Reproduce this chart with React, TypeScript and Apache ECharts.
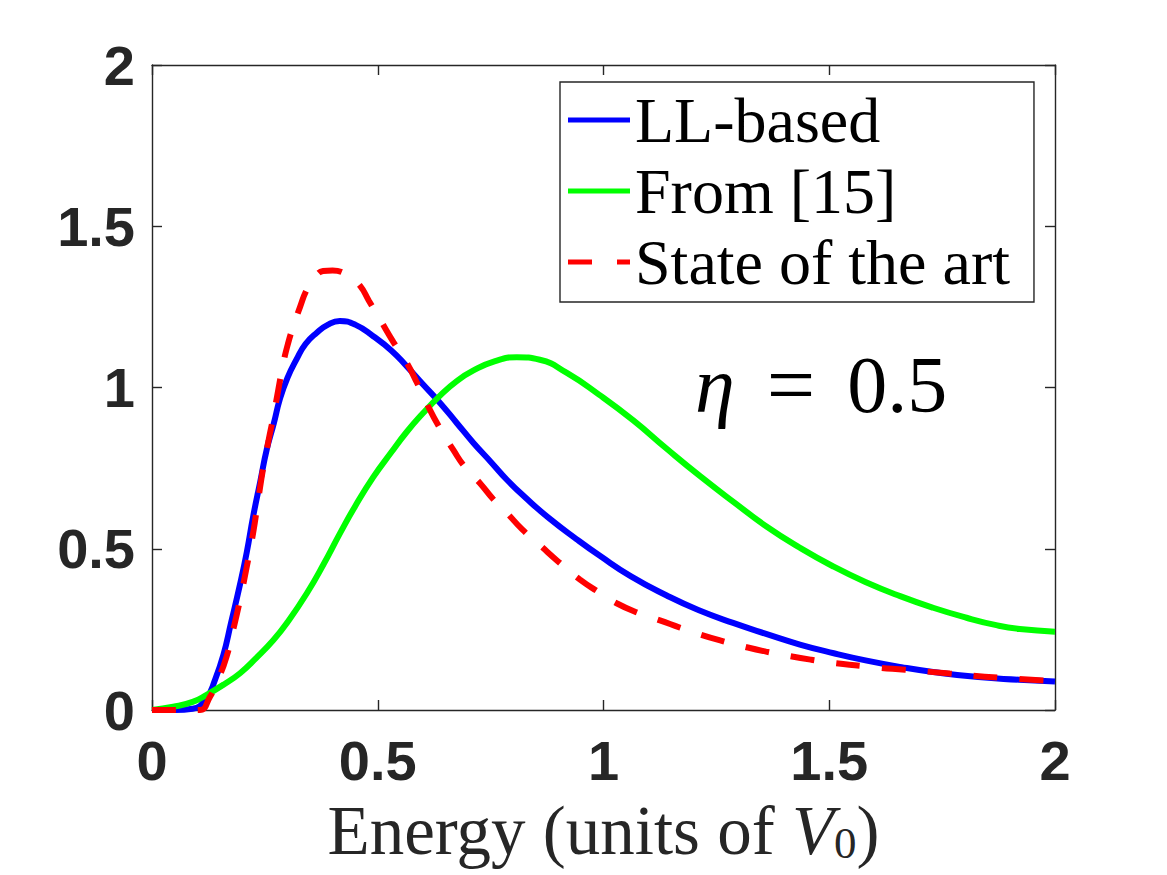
import React, { useEffect, useRef } from "react";
import * as echarts from "echarts";

const xTicks = [0, 0.5, 1, 1.5, 2];
const yTicks = [0, 0.5, 1, 1.5, 2];

const seriesNames = ["LL-based", "From [15]", "State of the art"];

const llX = [0, 0.05, 0.09, 0.12, 0.14, 0.158, 0.175, 0.195, 0.21, 0.224, 0.24, 0.254, 0.27, 0.283, 0.3, 0.32, 0.34, 0.365, 0.39, 0.416, 0.45, 0.49, 0.53, 0.564, 0.6, 0.638, 0.675, 0.712, 0.75, 0.786, 0.83, 0.88, 0.94, 0.992, 1.06, 1.14, 1.21, 1.287, 1.36, 1.435, 1.51, 1.583, 1.66, 1.73, 1.83, 1.92, 2.0];
const llY = [0, 0, 0.004, 0.035, 0.095, 0.17, 0.27, 0.39, 0.49, 0.6, 0.71, 0.807, 0.89, 0.963, 1.03, 1.087, 1.135, 1.17, 1.195, 1.206, 1.195, 1.159, 1.115, 1.066, 1.01, 0.952, 0.89, 0.828, 0.77, 0.714, 0.655, 0.594, 0.53, 0.478, 0.415, 0.355, 0.31, 0.27, 0.236, 0.203, 0.176, 0.153, 0.133, 0.118, 0.102, 0.094, 0.088];

const fromX = [0, 0.047, 0.09, 0.121, 0.16, 0.195, 0.23, 0.269, 0.3, 0.343, 0.38, 0.416, 0.45, 0.49, 0.53, 0.564, 0.6, 0.638, 0.675, 0.712, 0.76, 0.808, 0.859, 0.918, 0.99, 1.066, 1.14, 1.214, 1.29, 1.361, 1.435, 1.509, 1.58, 1.657, 1.73, 1.804, 1.87, 1.922, 2.0];
const fromY = [0, 0.01, 0.025, 0.047, 0.08, 0.114, 0.16, 0.217, 0.272, 0.362, 0.452, 0.547, 0.632, 0.722, 0.799, 0.862, 0.92, 0.975, 1.02, 1.053, 1.082, 1.094, 1.086, 1.046, 0.978, 0.898, 0.81, 0.725, 0.643, 0.569, 0.503, 0.445, 0.397, 0.353, 0.317, 0.286, 0.263, 0.251, 0.243];

const artX = [0, 0.06, 0.106, 0.128, 0.145, 0.165, 0.18, 0.195, 0.21, 0.224, 0.235, 0.247, 0.258, 0.269, 0.28, 0.291, 0.302, 0.313, 0.328, 0.343, 0.36, 0.379, 0.4, 0.424, 0.44, 0.461, 0.48, 0.505, 0.535, 0.564, 0.585, 0.608, 0.635, 0.667, 0.695, 0.726, 0.755, 0.786, 0.82, 0.86, 0.9, 0.948, 0.99, 1.029, 1.075, 1.125, 1.17, 1.214, 1.26, 1.31, 1.36, 1.413, 1.46, 1.509, 1.605, 1.668, 1.767, 1.878, 2.0];
const artY = [0, 0, 0, 0.04, 0.09, 0.165, 0.25, 0.342, 0.445, 0.549, 0.65, 0.756, 0.835, 0.911, 0.995, 1.077, 1.14, 1.19, 1.25, 1.304, 1.34, 1.361, 1.363, 1.356, 1.34, 1.315, 1.27, 1.211, 1.14, 1.077, 1.02, 0.952, 0.88, 0.807, 0.75, 0.704, 0.655, 0.611, 0.56, 0.51, 0.46, 0.404, 0.365, 0.331, 0.302, 0.278, 0.255, 0.234, 0.215, 0.197, 0.181, 0.167, 0.156, 0.146, 0.132, 0.125, 0.113, 0.1, 0.09];

const etaLabel = "{e|η}{q|=}0.5";
const xName = "Energy (units of {i|V}{s|0})";

const zip = (xs: number[], ys: number[]) => xs.map((x, i) => [x, ys[i]]);

const AXIS = "#262626";
const SERIF = "'Liberation Serif', 'Times New Roman', serif";
const SANS = "'Liberation Sans', Arial, Helvetica, sans-serif";
const SOLID_ICON = "path://M0,0H62V5H0Z";
const DASH_ICON = "path://M0,0H24V5H0Z M49,0H62V5H49Z";

export default function App() {
  const ref = useRef<HTMLDivElement>(null);
  useEffect(() => {
    document.body.style.margin = "0";
    if (!ref.current) return;
    const chart = echarts.init(ref.current, null, { renderer: "svg" });
    const commonAxis = {
      type: "value" as const,
      min: xTicks[0],
      max: xTicks[xTicks.length - 1],
      interval: 0.5,
      splitLine: { show: false },
      axisLine: { show: true, onZero: false, lineStyle: { color: AXIS, width: 1.4 } },
      axisTick: { show: true, inside: true, length: 10, lineStyle: { color: AXIS, width: 1.4 } },
    };
    chart.setOption({
      animation: false,
      backgroundColor: "#ffffff",
      grid: { left: 152, right: 112, top: 65, bottom: 165, containLabel: false },
      xAxis: [
        {
          ...commonAxis,
          position: "bottom",
          axisLabel: { show: true, fontSize: 56, fontWeight: "bold", fontFamily: SANS, color: AXIS, margin: 22 },
          name: xName,
          nameLocation: "middle",
          nameGap: 86,
          nameTextStyle: {
            fontSize: 69,
            fontFamily: SERIF,
            color: AXIS,
            rich: {
              i: { fontSize: 69, fontFamily: SERIF, fontStyle: "italic", color: AXIS },
              s: { fontSize: 45, fontFamily: SERIF, color: AXIS, padding: [24, 0, 0, 0] },
            },
          },
        },
        { ...commonAxis, position: "top", axisLabel: { show: false } },
      ],
      yAxis: [
        {
          ...commonAxis,
          min: yTicks[0],
          max: yTicks[yTicks.length - 1],
          position: "left",
          axisLabel: { show: true, fontSize: 56, fontWeight: "bold", fontFamily: SANS, color: AXIS, margin: 17 },
        },
        {
          ...commonAxis,
          min: yTicks[0],
          max: yTicks[yTicks.length - 1],
          position: "right",
          axisLabel: { show: false },
        },
      ],
      legend: {
        orient: "vertical",
        left: 560,
        top: 82,
        padding: [6, 24, 8, 8],
        itemGap: 7,
        itemWidth: 62,
        itemHeight: 5,
        backgroundColor: "#ffffff",
        borderColor: AXIS,
        borderWidth: 1.4,
        borderRadius: 0,
        textStyle: { fontSize: 64, fontFamily: SERIF, color: "#000000" },
        data: [
          { name: seriesNames[0], icon: SOLID_ICON },
          { name: seriesNames[1], icon: SOLID_ICON },
          { name: seriesNames[2], icon: DASH_ICON },
        ],
      },
      graphic: [
        {
          type: "text",
          left: 695,
          top: 342,
          style: {
            text: etaLabel,
            fontSize: 80,
            fontFamily: SERIF,
            fill: "#000000",
            rich: {
              e: { fontSize: 80, fontFamily: SERIF, fontStyle: "italic", fill: "#000000" },
              q: { fontSize: 86, fontFamily: SERIF, fill: "#000000", padding: [0, 32, 0, 32] },
            },
          } as any,
        },
      ],
      series: [
        {
          name: seriesNames[0],
          type: "line",
          data: zip(llX, llY),
          symbol: "none",
          smooth: 0.5,
          lineStyle: { color: "#0000ff", width: 6 },
          itemStyle: { color: "#0000ff" },
          z: 2,
        },
        {
          name: seriesNames[1],
          type: "line",
          data: zip(fromX, fromY),
          symbol: "none",
          smooth: 0.5,
          lineStyle: { color: "#00ff00", width: 6 },
          itemStyle: { color: "#00ff00" },
          z: 3,
        },
        {
          name: seriesNames[2],
          type: "line",
          data: zip(artX, artY),
          symbol: "none",
          smooth: 0.5,
          lineStyle: { color: "#ff0000", width: 6, type: [24, 22] },
          itemStyle: { color: "#ff0000" },
          z: 4,
        },
      ],
    });
    return () => chart.dispose();
  }, []);
  return <div ref={ref} style={{ width: 1167, height: 875 }} />;
}
